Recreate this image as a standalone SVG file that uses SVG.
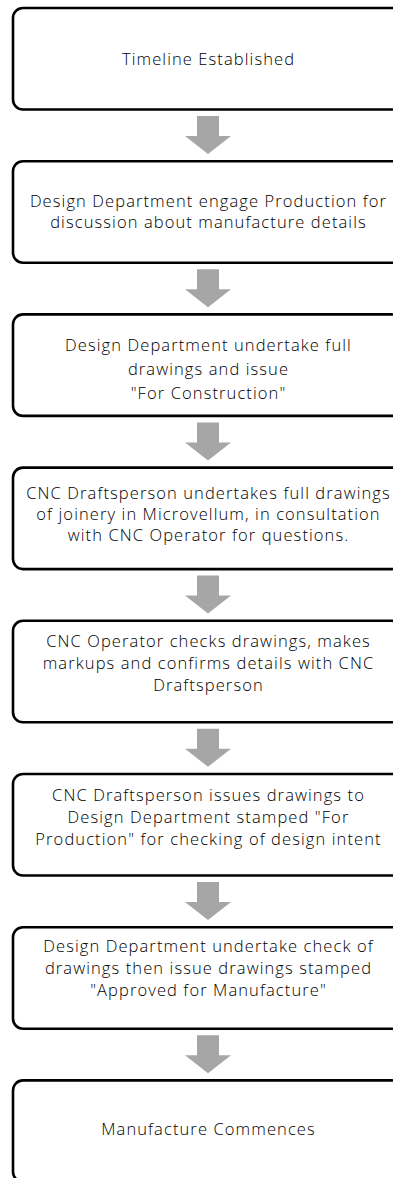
<svg xmlns="http://www.w3.org/2000/svg" width="393" height="1178" viewBox="0 0 393 1178">
<style>
.box{fill:#ffffff;stroke:#000000;stroke-width:2.6}
.t{font-family:"Open Sans","Lato","Liberation Sans",sans-serif;font-weight:300;font-size:16.5px;letter-spacing:1.1px;fill:#000000;text-anchor:middle}
.arr{fill:#a6a6a6;stroke:none}
</style>
<rect width="393" height="1178" fill="#ffffff"/>
<g id="connectors">
<polygon class="arr" points="197,116 219,116 219,136 231,136 208,154 185,136 197,136"/>
<polygon class="arr" points="197,269.2 219,269.2 219,289.2 231,289.2 208,307.2 185,289.2 197,289.2"/>
<polygon class="arr" points="197,422.4 219,422.4 219,442.4 231,442.4 208,460.4 185,442.4 197,442.4"/>
<polygon class="arr" points="197,575.6 219,575.6 219,595.6 231,595.6 208,613.6 185,595.6 197,595.6"/>
<polygon class="arr" points="197,728.8 219,728.8 219,748.8 231,748.8 208,766.8 185,748.8 197,748.8"/>
<polygon class="arr" points="197,882 219,882 219,902 231,902 208,920 185,902 197,902"/>
<polygon class="arr" points="197,1035.2 219,1035.2 219,1055.2 231,1055.2 208,1073.2 185,1055.2 197,1055.2"/>
</g>
<g id="n1"><rect class="box" x="13" y="8" width="389" height="101.5" rx="10"/>
<text class="t" x="208.5" y="64.5">Timeline Established</text></g>
<g id="n2"><rect class="box" x="13" y="161.2" width="389" height="101.5" rx="10"/>
<text class="t" x="208.5" y="207">Design Department engage Production for</text>
<text class="t" x="208.5" y="228">discussion about manufacture details</text></g>
<g id="n3"><rect class="box" x="13" y="314.4" width="389" height="101.5" rx="10"/>
<text class="t" x="208.5" y="351">Design Department undertake full</text>
<text class="t" x="208.5" y="374.5">drawings and issue</text>
<text class="t" x="208.5" y="398.5">"For Construction"</text></g>
<g id="n4"><rect class="box" x="13" y="467.6" width="389" height="101.5" rx="10"/>
<text class="t" x="208.5" y="498.5">CNC Draftsperson undertakes full drawings</text>
<text class="t" x="208.5" y="519.5">of joinery in Microvellum, in consultation</text>
<text class="t" x="208.5" y="540.5">with CNC Operator for questions.</text></g>
<g id="n5"><rect class="box" x="13" y="620.8" width="389" height="101.5" rx="10"/>
<text class="t" x="208.5" y="647">CNC Operator checks drawings, makes</text>
<text class="t" x="208.5" y="669">markups and confirms details with CNC</text>
<text class="t" x="208.5" y="691">Draftsperson</text></g>
<g id="n6"><rect class="box" x="13" y="774" width="389" height="101.5" rx="10"/>
<text class="t" x="208.5" y="801">CNC Draftsperson issues drawings to</text>
<text class="t" x="208.5" y="823">Design Department stamped "For</text>
<text class="t" x="208.5" y="845">Production" for checking of design intent</text></g>
<g id="n7"><rect class="box" x="13" y="927.2" width="389" height="101.5" rx="10"/>
<text class="t" x="208.5" y="952">Design Department undertake check of</text>
<text class="t" x="208.5" y="974">drawings then issue drawings stamped</text>
<text class="t" x="208.5" y="996">"Approved for Manufacture"</text></g>
<g id="n8"><rect class="box" x="13" y="1080.4" width="389" height="101.5" rx="10"/>
<text class="t" x="208.5" y="1135">Manufacture Commences</text></g>
</svg>
